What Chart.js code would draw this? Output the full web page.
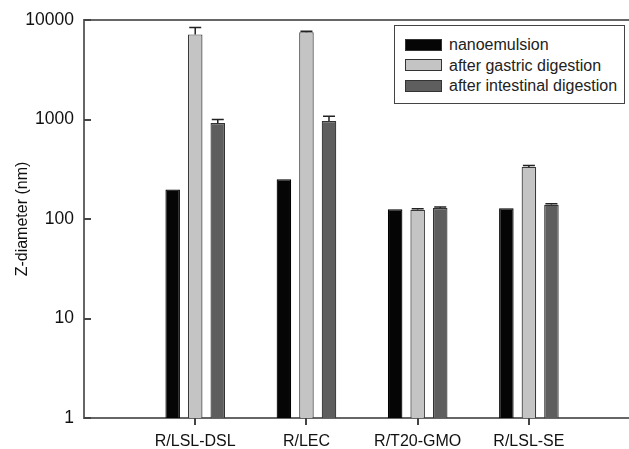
<!DOCTYPE html>
<html>
<head>
<meta charset="utf-8">
<script src="https://cdn.jsdelivr.net/npm/chart.js@4/dist/chart.umd.min.js"></script>
<style>
  body { margin: 0; background: #fff; }
  #wrap { position: relative; width: 629px; height: 449px; }
  #legend {
    position: absolute; left: 394px; top: 25px; width: 229px; height: 77px;
    border: 1.5px solid #444; background: #fff;
    font-family: Arial, "Liberation Sans", sans-serif; font-size: 16px; color: #222;
  }
  .row { position: absolute; left: 10px; height: 20px; line-height: 20px; white-space: nowrap; }
  .sw { display: inline-block; width: 35px; height: 10px; border: 1px solid #333; vertical-align: middle; margin-right: 7px; position: relative; top: -1px; }
</style>
</head>
<body>
<div id="wrap">
  <canvas id="chart" width="629" height="449"></canvas>
  <div id="legend"></div>
</div>
<script>
const categories = ['R/LSL-DSL', 'R/LEC', 'R/T20-GMO', 'R/LSL-SE'];
const seriesNames = ['nanoemulsion', 'after gastric digestion', 'after intestinal digestion'];
const nanoemulsion = [198, 251, 125, 128];
const gastric = [7170, 7550, 124, 334];
const intestinal = [922, 966, 129, 139];
const gastricErr = [1260, 150, 3, 10];
const intestinalErr = [80, 110, 3, 3];
const yTicks = [1, 10, 100, 1000, 10000];
const xTicks = [1, 2, 3, 4];

const fills = ['#050505', '#c4c4c4', '#5e5e5e'];
const borders = ['#000', '#3a3a3a', '#333'];
const axisColor = '#666';
const font = 'Arial, "Liberation Sans", sans-serif';

function toPoints(vals) {
    return vals.map((v, i) => ({ x: i + 1, y: v }));
}

const allSeries = [nanoemulsion, gastric, intestinal];
const allErr = [null, gastricErr, intestinalErr];

// build legend
const legendEl = document.getElementById('legend');
seriesNames.forEach((name, i) => {
    const row = document.createElement('div');
    row.className = 'row';
    row.style.top = (9 + i * 20.5) + 'px';
    row.innerHTML = '<span class="sw" style="background:' + fills[i] + '"></span>' + name;
    legendEl.appendChild(row);
});

// top frame line + small tick marks (x outward, y inward)
const frame = {
    id: 'frame',
    afterDraw(chart) {
        const ctx = chart.ctx, a = chart.chartArea;
        const xs = chart.scales.x, ys = chart.scales.y;
        ctx.save();
        ctx.strokeStyle = axisColor;
        ctx.lineWidth = 2;
        ctx.beginPath();
        ctx.moveTo(a.left - 1, a.top);
        ctx.lineTo(a.right, a.top);
        ctx.stroke();

        ctx.lineWidth = 2;
        ctx.strokeStyle = '#444';
        ctx.beginPath();
        xTicks.forEach(v => {
            const px = Math.round(xs.getPixelForValue(v));
            ctx.moveTo(px, a.bottom);
            ctx.lineTo(px, a.bottom + 7);
        });
        yTicks.forEach(v => {
            const py = Math.round(ys.getPixelForValue(v));
            ctx.moveTo(a.left, py);
            ctx.lineTo(a.left + 7, py);
        });
        ctx.stroke();
        ctx.restore();
    }
};

const errorBars = {
    id: 'errorBars',
    afterDatasetsDraw(chart) {
        const ctx = chart.ctx;
        const yScale = chart.scales.y;
        ctx.save();
        ctx.strokeStyle = '#222';
        ctx.lineWidth = 1.5;
        chart.data.datasets.forEach((ds, di) => {
            const err = allErr[di];
            if (!err) return;
            chart.getDatasetMeta(di).data.forEach((bar, i) => {
                const top = yScale.getPixelForValue(allSeries[di][i]);
                const hi = yScale.getPixelForValue(allSeries[di][i] + err[i]);
                ctx.beginPath();
                ctx.moveTo(bar.x, top);
                ctx.lineTo(bar.x, hi);
                ctx.moveTo(bar.x - 6, hi);
                ctx.lineTo(bar.x + 6, hi);
                ctx.stroke();
            });
        });
        ctx.restore();
    }
};

new Chart(document.getElementById('chart').getContext('2d'), {
    type: 'bar',
    data: {
        datasets: allSeries.map((vals, i) => ({
            label: seriesNames[i],
            data: toPoints(vals),
            backgroundColor: fills[i],
            borderColor: borders[i],
            borderWidth: 1.2,
            categoryPercentage: 0.608,
            barPercentage: 0.645
        }))
    },
    options: {
        responsive: false,
        devicePixelRatio: 1,
        animation: false,
        layout: { padding: { top: 20, right: 0, bottom: 0, left: 0 } },
        plugins: {
            legend: { display: false },
            tooltip: { enabled: false }
        },
        scales: {
            x: {
                type: 'linear',
                offset: false,
                min: 0,
                max: 4.9,
                afterBuildTicks: scale => {
                    scale.ticks = xTicks.map(v => ({ value: v }));
                },
                afterFit: scale => {
                    scale.height = 31;
                    scale.paddingLeft = 0;
                    scale.paddingRight = 0;
                },
                ticks: {
                    callback: v => categories[v - 1] || '',
                    color: '#111',
                    font: { family: font, size: 16 },
                    padding: 8,
                    maxRotation: 0
                },
                grid: { offset: false, drawOnChartArea: false, tickLength: 6, color: 'rgba(0,0,0,0)' },
                border: { color: axisColor, width: 2 }
            },
            y: {
                type: 'logarithmic',
                min: 1,
                max: 10000,
                afterBuildTicks: scale => {
                    scale.ticks = yTicks.map(v => ({ value: v }));
                },
                afterFit: scale => {
                    scale.width = 84;
                    scale.paddingTop = 0;
                    scale.paddingBottom = 0;
                },
                ticks: {
                    callback: v => String(v),
                    color: '#111',
                    font: { family: font, size: 17.5 },
                    padding: 10
                },
                grid: { drawOnChartArea: false, drawTicks: false, color: 'rgba(0,0,0,0)' },
                border: { color: axisColor, width: 2 },
                title: {
                    display: true,
                    text: 'Z-diameter (nm)',
                    color: '#111',
                    font: { family: font, size: 16 },
                    padding: { top: 13, bottom: 0 }
                }
            }
        }
    },
    plugins: [frame, errorBars]
});
</script>
</body>
</html>
